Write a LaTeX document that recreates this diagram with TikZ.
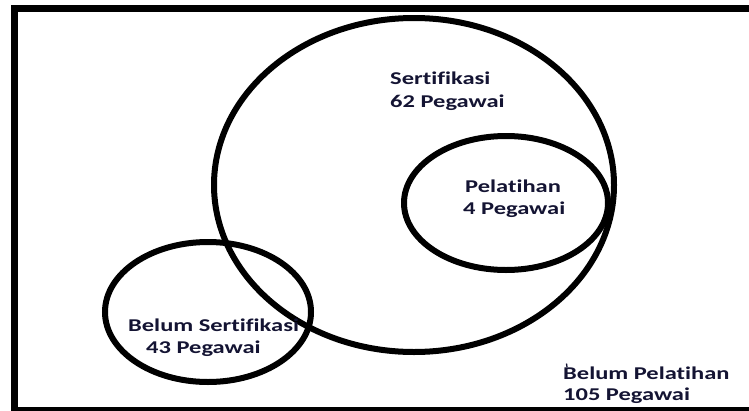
\documentclass[tikz,border=0pt]{standalone}
\usepackage{fontspec}
\setmainfont{Carlito}
\newfontfamily\lblfont[FakeStretch=1.36,RawFeature=-liga]{Carlito}
\usetikzlibrary{shapes.geometric}
\definecolor{txt}{rgb}{0.08,0.08,0.20}
\begin{document}
\begin{tikzpicture}[x=1pt,y=-1pt,
  ring/.style={draw=black,line width=6pt,ellipse,inner sep=0pt},
  lbl/.style={anchor=base west,inner sep=0pt,text=txt,font=\lblfont\bfseries\fontsize{18}{22}\selectfont}]
\useasboundingbox (0,0) rectangle (749,410);
\fill[white] (0,0) rectangle (749,410);
\clip (0,0) rectangle (749,410);
\draw[line width=7pt] (14.5,8) rectangle (770,410.5);
\node[ring,minimum width=400pt,minimum height=334pt] (sert) at (414,185) {};
\node[ring,minimum width=204pt,minimum height=134pt] (pel) at (506,203) {};
\node[ring,minimum width=206pt,minimum height=140pt] (bsert) at (208,312) {};
\node[lbl] (t1) at (390,84) {Sertifikasi};
\node[lbl] (t2) at (390,107) {62 Pegawai};
\node[lbl] (t3) at (465,192) {Pelatihan};
\node[lbl] (t4) at (463,214) {4 Pegawai};
\node[lbl] (t5) at (128,331) {Belum Sertifikasi};
\node[lbl] (t6) at (146,353) {43 Pegawai};
\node[lbl] (t7) at (563,379) {Belum Pelatihan};
\node[lbl] (t8) at (563,400) {105 Pegawai};
\draw[txt,line width=1.3pt] (566.5,363.5) -- (567,367);
\end{tikzpicture}
\end{document}
